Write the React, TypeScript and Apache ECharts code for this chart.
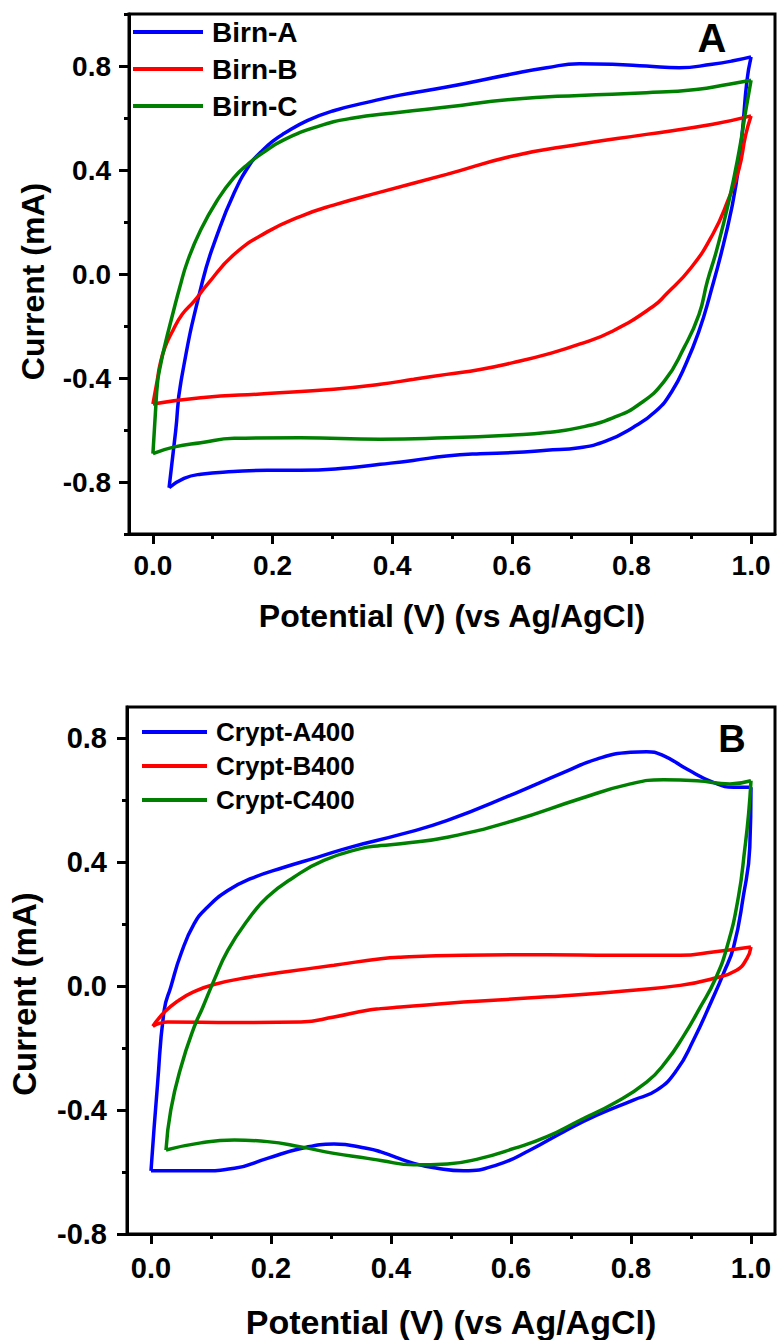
import React, { useEffect, useRef } from "react";
import * as echarts from "echarts";

const FONT = "'Liberation Sans', Arial, Helvetica, sans-serif";

// Tick values
const xMajor = [0, 0.2, 0.4, 0.6, 0.8, 1.0];
const xMinor = [0.1, 0.3, 0.5, 0.7, 0.9];
const yMajorA = [-0.8, -0.4, 0, 0.4, 0.8];
const yMinorA = [-1.0, -0.6, -0.2, 0.2, 0.6, 1.0];
const yMajorB = [-0.8, -0.4, 0, 0.4, 0.8];
const yMinorB = [-0.6, -0.2, 0.2, 0.6];

const namesA = ["Birn-A", "Birn-B", "Birn-C"];
const namesB = ["Crypt-A400", "Crypt-B400", "Crypt-C400"];
const colors = ["#0000FF", "#FF0000", "#008000"];

// Panel A: each loop = anodic sweep (up) + cathodic sweep (down)
const birnAUp = [[0.027,-0.822],[0.038,-0.604],[0.047,-0.412],[0.083,-0.027],[0.108,0.154],[0.135,0.308],[0.163,0.425],[0.18,0.468],[0.2,0.51],[0.219,0.54],[0.258,0.59],[0.302,0.628],[0.358,0.66],[0.413,0.688],[0.491,0.719],[0.602,0.77],[0.658,0.793],[0.713,0.809],[0.768,0.807],[0.825,0.8],[0.88,0.793],[0.935,0.807],[0.968,0.819],[1.0,0.835]];
const birnADown = [[1.0,0.835],[0.993,0.742],[0.985,0.538],[0.975,0.346],[0.958,0.154],[0.93,-0.091],[0.913,-0.219],[0.891,-0.346],[0.868,-0.45],[0.841,-0.527],[0.802,-0.591],[0.758,-0.642],[0.713,-0.668],[0.658,-0.678],[0.602,-0.687],[0.547,-0.691],[0.491,-0.7],[0.435,-0.717],[0.38,-0.732],[0.33,-0.745],[0.247,-0.755],[0.191,-0.755],[0.135,-0.76],[0.08,-0.77],[0.052,-0.786],[0.027,-0.822]];
const birnBUp = [[0.0,-0.5],[0.007,-0.412],[0.012,-0.347],[0.02,-0.283],[0.033,-0.219],[0.049,-0.155],[0.069,-0.104],[0.091,-0.04],[0.136,0.076],[0.191,0.162],[0.247,0.222],[0.302,0.265],[0.38,0.315],[0.491,0.383],[0.602,0.454],[0.713,0.499],[0.825,0.537],[0.936,0.576],[1.0,0.608]];
const birnBDown = [[1.0,0.608],[0.991,0.535],[0.98,0.406],[0.961,0.281],[0.936,0.153],[0.9,0.025],[0.858,-0.078],[0.836,-0.125],[0.769,-0.219],[0.713,-0.27],[0.658,-0.309],[0.602,-0.341],[0.547,-0.367],[0.491,-0.386],[0.436,-0.405],[0.38,-0.424],[0.302,-0.443],[0.191,-0.46],[0.08,-0.476],[0.0,-0.5]];
const birnCUp = [[0.0,-0.691],[0.004,-0.54],[0.008,-0.412],[0.013,-0.347],[0.019,-0.283],[0.033,-0.155],[0.045,-0.05],[0.058,0.05],[0.08,0.17],[0.108,0.285],[0.135,0.37],[0.16,0.425],[0.183,0.465],[0.218,0.515],[0.275,0.567],[0.33,0.598],[0.413,0.622],[0.491,0.642],[0.602,0.672],[0.713,0.687],[0.825,0.697],[0.908,0.71],[0.963,0.73],[1.0,0.745]];
const birnCDown = [[1.0,0.745],[0.991,0.627],[0.98,0.473],[0.963,0.281],[0.942,0.088],[0.927,-0.027],[0.913,-0.155],[0.888,-0.283],[0.855,-0.412],[0.813,-0.501],[0.769,-0.553],[0.713,-0.591],[0.658,-0.61],[0.602,-0.619],[0.491,-0.63],[0.38,-0.636],[0.247,-0.63],[0.136,-0.632],[0.08,-0.649],[0.036,-0.665],[0.0,-0.691]];

// Panel B
const cryptAUp = [[0.0,-0.596],[0.011,-0.314],[0.022,-0.078],[0.033,-0.003],[0.05,0.104],[0.072,0.201],[0.094,0.254],[0.128,0.308],[0.166,0.346],[0.222,0.383],[0.277,0.415],[0.333,0.448],[0.416,0.489],[0.494,0.534],[0.605,0.62],[0.688,0.689],[0.743,0.732],[0.799,0.754],[0.826,0.756],[0.854,0.743],[0.893,0.7],[0.937,0.657],[0.971,0.641],[1.0,0.641]];
const cryptADown = [[1.0,0.641],[0.998,0.448],[0.987,0.287],[0.971,0.126],[0.954,0.04],[0.935,-0.045],[0.904,-0.175],[0.876,-0.272],[0.843,-0.336],[0.804,-0.368],[0.743,-0.417],[0.688,-0.47],[0.632,-0.529],[0.577,-0.577],[0.521,-0.596],[0.477,-0.588],[0.438,-0.572],[0.383,-0.535],[0.361,-0.524],[0.305,-0.51],[0.25,-0.524],[0.194,-0.556],[0.139,-0.588],[0.083,-0.596],[0.0,-0.596]];
const cryptBUp = [[0.003,-0.13],[0.022,-0.085],[0.045,-0.048],[0.07,-0.02],[0.105,0.005],[0.166,0.029],[0.222,0.045],[0.305,0.067],[0.383,0.088],[0.416,0.093],[0.521,0.099],[0.66,0.101],[0.771,0.099],[0.882,0.099],[0.937,0.11],[1.0,0.126]];
const cryptBDown = [[1.0,0.126],[0.993,0.088],[0.976,0.051],[0.937,0.024],[0.882,0.002],[0.771,-0.019],[0.66,-0.035],[0.521,-0.052],[0.416,-0.068],[0.383,-0.073],[0.361,-0.078],[0.305,-0.1],[0.25,-0.116],[0.139,-0.118],[0.028,-0.116],[0.003,-0.13]];
const cryptCUp = [[0.025,-0.529],[0.033,-0.4],[0.05,-0.261],[0.072,-0.132],[0.086,-0.07],[0.105,0.018],[0.128,0.115],[0.161,0.212],[0.194,0.287],[0.238,0.351],[0.288,0.405],[0.349,0.443],[0.383,0.453],[0.416,0.459],[0.494,0.48],[0.605,0.534],[0.715,0.604],[0.799,0.652],[0.854,0.665],[0.91,0.662],[0.965,0.652],[1.0,0.662]];
const cryptCDown = [[1.0,0.662],[0.996,0.555],[0.99,0.448],[0.979,0.287],[0.96,0.126],[0.94,0.02],[0.915,-0.07],[0.888,-0.16],[0.858,-0.245],[0.826,-0.31],[0.771,-0.379],[0.715,-0.433],[0.66,-0.486],[0.605,-0.524],[0.549,-0.556],[0.494,-0.574],[0.438,-0.577],[0.383,-0.563],[0.361,-0.556],[0.305,-0.54],[0.25,-0.519],[0.194,-0.502],[0.139,-0.497],[0.083,-0.506],[0.025,-0.529]];

const curvesA = [[birnAUp, birnADown], [birnBUp, birnBDown], [birnCUp, birnCDown]];
const curvesB = [[cryptAUp, cryptADown], [cryptBUp, cryptBDown], [cryptCUp, cryptCDown]];

const fmt = (v: number) => (Math.abs(v) < 1e-9 ? "0.0" : v.toFixed(1));

function mainX(gridIndex: number, nameGap: number, nameSize: number, margin: number, labelSize: number) {
  return {
    type: "value", gridIndex, min: -0.04, max: 1.04, position: "bottom",
    axisLine: { show: true, onZero: false, lineStyle: { color: "#000", width: 3 } },
    axisTick: { show: true, customValues: xMajor, length: 10, lineStyle: { color: "#000", width: 3 } },
    axisLabel: { show: true, customValues: xMajor, formatter: fmt, margin, fontSize: labelSize, fontWeight: "bold", color: "#000", fontFamily: FONT },
    splitLine: { show: false },
    name: "Potential (V) (vs Ag/AgCl)", nameLocation: "middle", nameGap,
    nameTextStyle: { fontSize: nameSize, fontWeight: "bold", color: "#000", fontFamily: FONT },
  };
}
function minorX(gridIndex: number) {
  return {
    type: "value", gridIndex, min: -0.04, max: 1.04, position: "bottom",
    axisLine: { show: false, onZero: false },
    axisTick: { show: true, customValues: xMinor, length: 5, lineStyle: { color: "#000", width: 3 } },
    axisLabel: { show: false }, splitLine: { show: false },
  };
}
function mainY(gridIndex: number, min: number, max: number, major: number[], nameGap: number, nameSize: number, shift: number, margin: number, labelSize: number) {
  return {
    type: "value", gridIndex, min, max, position: "left",
    axisLine: { show: true, onZero: false, lineStyle: { color: "#000", width: 3 } },
    axisTick: { show: true, customValues: major, length: 10, lineStyle: { color: "#000", width: 3 } },
    axisLabel: { show: true, customValues: major, formatter: fmt, margin, fontSize: labelSize, fontWeight: "bold", color: "#000", fontFamily: FONT },
    splitLine: { show: false },
    name: "Current (mA)", nameLocation: "middle", nameGap,
    nameTextStyle: { fontSize: nameSize, fontWeight: "bold", color: "#000", fontFamily: FONT, padding: [0, shift, 0, 0] },
  };
}
function minorY(gridIndex: number, min: number, max: number, minor: number[]) {
  return {
    type: "value", gridIndex, min, max, position: "left",
    axisLine: { show: false, onZero: false },
    axisTick: { show: true, customValues: minor, length: 5, lineStyle: { color: "#000", width: 3 } },
    axisLabel: { show: false }, splitLine: { show: false },
  };
}

function buildSeries(names: string[], curves: number[][][][], axisIndex: number) {
  const out: any[] = [];
  curves.forEach((branches, i) => {
    branches.forEach((data) => {
      out.push({
        type: "line", name: names[i], xAxisIndex: axisIndex, yAxisIndex: axisIndex,
        data, smooth: 0.5, symbol: "none", showSymbol: false,
        lineStyle: { color: colors[i], width: 3.5 }, itemStyle: { color: colors[i] },
        emphasis: { disabled: true }, z: 2 + i,
      });
    });
  });
  return out;
}

function legend(names: string[], left: number, top: number, w: number, size: number, gap: number) {
  return {
    orient: "vertical", left, top, padding: 0, itemWidth: w, itemHeight: 4, itemGap: gap,
    icon: "rect", selectedMode: false, data: names,
    textStyle: { fontSize: size, lineHeight: size, fontWeight: "bold", color: "#000", fontFamily: FONT, padding: [0, 0, 0, 4] },
  };
}

export default function App() {
  const ref = useRef<HTMLDivElement>(null);
  useEffect(() => {
    if (!ref.current) return;
    const chart = echarts.init(ref.current, null, { renderer: "svg" });
    chart.setOption({
      animation: false,
      backgroundColor: "#fff",
      grid: [
        { left: 129, top: 14, width: 646, height: 520, show: true, borderColor: "#000", borderWidth: 3, containLabel: false },
        { left: 126, top: 707, width: 649, height: 527, show: true, borderColor: "#000", borderWidth: 3, containLabel: false },
      ],
      xAxis: [mainX(0, 66, 32, 17, 28), minorX(0), mainX(1, 71, 34, 19, 29), minorX(1)],
      yAxis: [
        mainY(0, -1, 1, yMajorA, 80, 32, 15, 18, 28), minorY(0, -1, 1, yMinorA),
        mainY(1, -0.8, 0.9, yMajorB, 86, 33, 47, 20, 29), minorY(1, -0.8, 0.9, yMinorB),
      ],
      legend: [legend(namesA, 133, 18, 70, 28, 9), legend(namesB, 142, 719, 65, 26, 8)],
      graphic: [
        { type: "text", x: 712, y: 38, style: { text: "A", fill: "#000", font: `bold 40px ${FONT}`, align: "center", verticalAlign: "middle" } },
        { type: "text", x: 732, y: 739, style: { text: "B", fill: "#000", font: `bold 38px ${FONT}`, align: "center", verticalAlign: "middle" } },
      ],
      series: [...buildSeries(namesA, curvesA, 0), ...buildSeries(namesB, curvesB, 2)],
    });
    return () => chart.dispose();
  }, []);
  return <div ref={ref} style={{ position: "absolute", left: 0, top: 0, width: 778, height: 1340 }} />;
}
